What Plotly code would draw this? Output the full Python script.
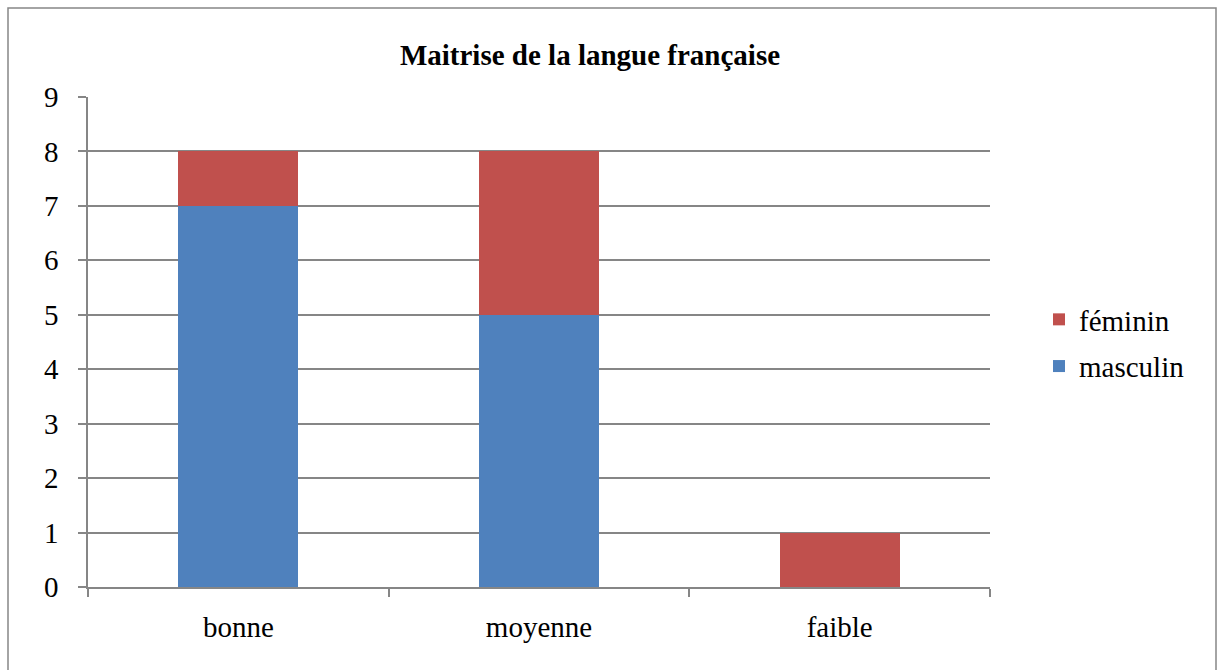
import plotly.graph_objects as go

categories = ["bonne", "moyenne", "faible"]
masculin = [7, 5, 0]
feminin = [1, 3, 1]
y_ticks = [0, 1, 2, 3, 4, 5, 6, 7, 8, 9]

BLUE = "#4F81BD"
RED = "#C0504D"
GRAY = "#868686"
FONT = "Liberation Serif"

fig = go.Figure()
fig.add_trace(go.Bar(x=categories, y=masculin, name="masculin", marker_color=BLUE,
                     marker_line_width=0, legendgroup="m", legendrank=2))
fig.add_trace(go.Bar(x=categories, y=feminin, name="féminin", marker_color=RED,
                     marker_line_width=0, legendgroup="f", legendrank=1))

fig.update_layout(
    width=1221, height=670,
    barmode="stack", bargap=0.6,
    plot_bgcolor="white", paper_bgcolor="white",
    margin=dict(l=88, r=231, t=97, b=83),
    font=dict(family=FONT, size=29, color="black"),
    title=dict(text="<b>Maitrise de la langue française</b>", x=590/1221, xanchor="center",
               xref="container", y=1 - 55/670, yref="container", yanchor="middle",
               font=dict(family=FONT, size=29, color="black")),
    legend=dict(x=1039/1221, xref="container", xanchor="left", y=1 - 343/670, yref="container",
                yanchor="middle", traceorder="grouped", tracegroupgap=6,
                font=dict(family=FONT, size=29, color="black"), bgcolor="rgba(0,0,0,0)"),
    showlegend=True,
)
fig.update_xaxes(showline=True, linecolor=GRAY, linewidth=1.5, ticks="outside", tickson="boundaries",
                 ticklen=8, tickcolor=GRAY, tickwidth=1.5, showgrid=False, ticklabelstandoff=13)
fig.update_yaxes(range=[0, 9], tickvals=y_ticks, showline=True, linecolor=GRAY, linewidth=1.5,
                 ticks="outside", ticklen=8, tickcolor=GRAY, tickwidth=1.5,
                 showgrid=True, gridcolor=GRAY, gridwidth=1.5, zeroline=False, ticklabelstandoff=14)

fig.add_shape(type="rect", xref="paper", yref="paper",
              x0=(8 - 88) / 902, x1=(1216 - 88) / 902, y0=-0.2, y1=(587 - 8) / 490,
              line=dict(color=GRAY, width=1.5), fillcolor="rgba(0,0,0,0)", layer="below")

fig.write_html("out.html", config={"displayModeBar": False},
               post_script="document.body.style.margin='0';")
